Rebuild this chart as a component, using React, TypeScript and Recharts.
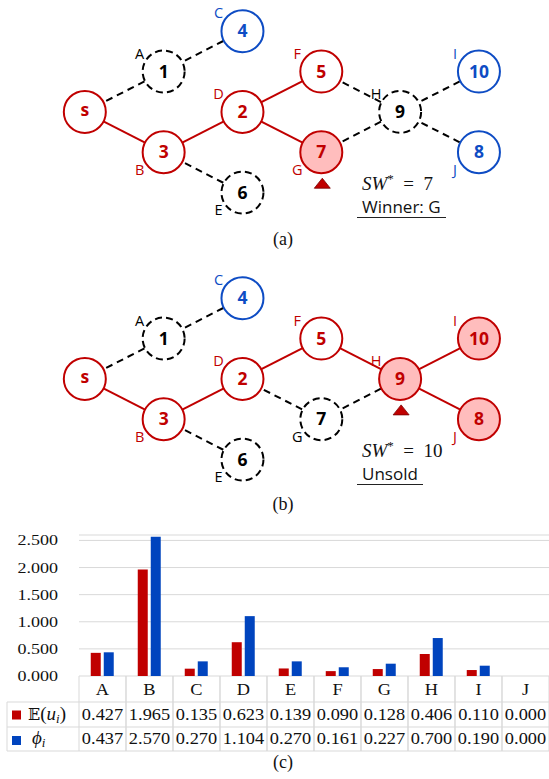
import React from 'react';
import { ScatterChart, Scatter, XAxis, YAxis, BarChart, Bar, CartesianGrid } from 'recharts';

// ---------------- network data ----------------
const nodeIds = ['s', '1', '2', '3', '4', '5', '6', '7', '8', '9', '10'];
const nodeCols = [0, 1, 2, 1, 2, 3, 2, 3, 5, 4, 5];
const nodeRows = [0, -1, 0, 1, -2, -1, 2, 1, 1, 0, -1];
const nodeLetters = ['', 'A', 'D', 'B', 'C', 'F', 'E', 'G', 'J', 'H', 'I'];
const letterSides = ['', 'top', 'top', 'bottom', 'top', 'top', 'bottom', 'bottom', 'bottom', 'top', 'top'];

const edgeFrom = ['s', '1', 's', '3', '3', '2', '2', '5', '7', '9', '9'];
const edgeTo = ['1', '4', '3', '2', '6', '5', '7', '9', '9', '10', '8'];

const edgeStatesA = ['idle', 'idle', 'path', 'path', 'idle', 'path', 'path', 'idle', 'idle', 'idle', 'idle'];
const edgeStatesB = ['idle', 'idle', 'path', 'path', 'idle', 'path', 'idle', 'path', 'idle', 'path', 'path'];

const nodeStatesA = ['path', 'idle', 'path', 'path', 'leaf', 'path', 'idle', 'win', 'leaf', 'idle', 'leaf'];
const nodeStatesB = ['path', 'idle', 'path', 'path', 'leaf', 'path', 'idle', 'idle', 'win', 'win', 'win'];

const markerA = '7';
const markerB = '9';
const swA = 7;
const swB = 10;
const outcomeA = 'Winner: G';
const outcomeB = 'Unsold';

// ---------------- bar / table data ----------------
const categories = ['A', 'B', 'C', 'D', 'E', 'F', 'G', 'H', 'I', 'J'];
const euValues = [0.427, 1.965, 0.135, 0.623, 0.139, 0.09, 0.128, 0.406, 0.11, 0.0];
const phiValues = [0.437, 2.57, 0.27, 1.104, 0.27, 0.161, 0.227, 0.7, 0.19, 0.0];
const yTicks = [0, 0.5, 1, 1.5, 2, 2.5];

// ---------------- styles ----------------
const RED = '#C00000';
const BLUE = '#0E4CC4';
const BAR_BLUE = '#0044BE';
const PINK = '#FFBDBD';
const GRID = '#D9D9D9';
const SANS = "'Open Sans', 'Noto Sans', sans-serif";
const SERIF = "'Liberation Serif', 'Times New Roman', serif";
const W = 549;
const Y_AXIS_W = 79;
const COL_W = (W - Y_AXIS_W) / categories.length;

const NoShape = () => <g />;

function makeNodeShape(markerId: string) {
  return (props: any) => {
    const { cx, cy, payload } = props;
    const st = payload.state;
    const stroke = st === 'leaf' ? BLUE : st === 'idle' ? '#000' : RED;
    const fill = st === 'win' ? PINK : '#fff';
    const dash = st === 'idle' ? '7 4.2' : undefined;
    const lower = /[a-z]/.test(payload.id);
    return (
      <g>
        <circle cx={cx} cy={cy} r={21} fill={fill} stroke={stroke} strokeWidth={2} strokeDasharray={dash} />
        <text
          x={cx}
          y={cy + (lower ? 4.5 : 6)}
          textAnchor="middle"
          fontFamily={SANS}
          fontWeight={700}
          fontSize={17.5}
          fill={stroke}
        >
          {payload.id}
        </text>
        {payload.letter ? (
          <text
            x={cx - 24}
            y={payload.side === 'top' ? cy - 13 : cy + 22.5}
            textAnchor="middle"
            fontFamily={SANS}
            fontSize={14.5}
            fill={stroke}
          >
            {payload.letter}
          </text>
        ) : null}
        {payload.id === markerId ? (
          <polygon
            points={`${cx + 1},${cy + 26} ${cx + 9},${cy + 36} ${cx - 7},${cy + 36}`}
            fill={RED}
            stroke="#7a0000"
            strokeWidth={0.8}
          />
        ) : null}
      </g>
    );
  };
}

function Network({ nodeStates, edgeStates, marker }: { nodeStates: string[]; edgeStates: string[]; marker: string }) {
  const nodes = nodeIds.map((id, i) => ({
    id,
    col: nodeCols[i],
    row: nodeRows[i],
    letter: nodeLetters[i],
    side: letterSides[i],
    state: nodeStates[i],
  }));
  const byId: Record<string, any> = {};
  nodes.forEach((n) => (byId[n.id] = n));
  return (
    <ScatterChart width={W} height={250} margin={{ top: 11, right: 7, bottom: 9, left: 6 }}>
      <XAxis type="number" dataKey="col" domain={[-1, 5.8]} hide />
      <YAxis type="number" dataKey="row" domain={[-2.5, 3.2]} reversed hide />
      {edgeFrom.map((f, i) => {
        const st = edgeStates[i];
        return (
          <Scatter
            key={'e' + i}
            data={[byId[f], byId[edgeTo[i]]]}
            shape={NoShape}
            line={{
              stroke: st === 'path' ? RED : '#000',
              strokeWidth: 2,
              strokeDasharray: st === 'path' ? undefined : '7 5',
            }}
            isAnimationActive={false}
          />
        );
      })}
      <Scatter data={nodes} shape={makeNodeShape(marker)} isAnimationActive={false} />
    </ScatterChart>
  );
}

function YTick(props: any) {
  const { x, y, payload } = props;
  return (
    <g transform={`translate(${x - 21},${y + 5})`}>
      <text transform="scale(1.2,1)" textAnchor="end" fontFamily={SERIF} fontSize={15} fill="#111">
        {Number(payload.value).toFixed(3)}
      </text>
    </g>
  );
}

function Val({ x, y, children }: { x: number; y: number; children: any }) {
  return (
    <g transform={`translate(${x},${y})`}>
      <text transform="scale(1.08,1)" textAnchor="middle" fontFamily={SERIF} fontSize={17} fill="#111">
        {children}
      </text>
    </g>
  );
}

function TableTick(props: any) {
  const { x, y, payload } = props;
  const i = categories.indexOf(payload.value);
  const left = x - COL_W / 2;
  const right = x + COL_W / 2;
  const r1 = y + 26;
  const r2 = y + 51;
  const r3 = y + 75;
  const labelLeft = 7;
  return (
    <g>
      <line x1={left} y1={y} x2={left} y2={r3} stroke={GRID} />
      <line x1={right} y1={y} x2={right} y2={r3} stroke={GRID} />
      <line x1={left} y1={r1} x2={right} y2={r1} stroke={GRID} />
      <line x1={left} y1={r2} x2={right} y2={r2} stroke={GRID} />
      <line x1={left} y1={r3} x2={right} y2={r3} stroke={GRID} />
      <Val x={x} y={y + 19}>{payload.value}</Val>
      <Val x={x} y={y + 44}>{euValues[i].toFixed(3)}</Val>
      <Val x={x} y={y + 68}>{phiValues[i].toFixed(3)}</Val>
      {i === 0 ? (
        <g>
          <line x1={labelLeft} y1={r1} x2={left} y2={r1} stroke={GRID} />
          <line x1={labelLeft} y1={r2} x2={left} y2={r2} stroke={GRID} />
          <line x1={labelLeft} y1={r3} x2={left} y2={r3} stroke={GRID} />
          <line x1={labelLeft} y1={r1} x2={labelLeft} y2={r3} stroke={GRID} />
          <rect x={12} y={y + 34.5} width={9} height={9} fill={RED} />
          <rect x={12} y={y + 60} width={9} height={9} fill={BAR_BLUE} />
          <text x={28} y={y + 44} fontFamily={SERIF} fontSize={19} fill="#111">
            <tspan fontFamily="'DejaVu Serif', 'DejaVu Sans', serif" fontSize={16}>{'\u{1D53C}'}</tspan>
            <tspan>(</tspan>
            <tspan fontStyle="italic">u</tspan>
            <tspan fontStyle="italic" fontSize={13} dy={3}>i</tspan>
            <tspan dy={-3}>)</tspan>
          </text>
          <text x={32} y={y + 68} fontFamily={SERIF} fontSize={19} fill="#111">
            <tspan fontStyle="italic">{'\u03D5'}</tspan>
            <tspan fontStyle="italic" fontSize={13} dy={3}>i</tspan>
          </text>
        </g>
      ) : null}
    </g>
  );
}

function Outcome({ top, text }: { top: number; text: string }) {
  return (
    <div
      style={{
        position: 'absolute',
        left: 357,
        top,
        fontFamily: SANS,
        fontSize: 17,
        lineHeight: '17px',
        color: '#111',
        padding: '0 5px 2.6px 5px',
        borderBottom: '1.3px solid #222',
        whiteSpace: 'nowrap',
      }}
    >
      {text}
    </div>
  );
}

function SW({ y, value }: { y: number; value: number }) {
  return (
    <text x={362} y={y} fontFamily={SERIF} fontSize={19} fill="#111">
      <tspan fontStyle="italic">SW</tspan>
      <tspan fontSize={13} dy={-7}>*</tspan>
      <tspan dy={7}>{'\u2002=\u2002' + value}</tspan>
    </text>
  );
}

export default function App() {
  const barData = categories.map((c, i) => ({ cat: c, eu: euValues[i], phi: phiValues[i] }));
  return (
    <div style={{ position: 'absolute', left: 0, top: 0, width: W, height: 779, background: '#fff', overflow: 'hidden' }}>
      <div style={{ position: 'absolute', left: 0, top: 0 }}>
        <Network nodeStates={nodeStatesA} edgeStates={edgeStatesA} marker={markerA} />
      </div>
      <div style={{ position: 'absolute', left: 0, top: 267 }}>
        <Network nodeStates={nodeStatesB} edgeStates={edgeStatesB} marker={markerB} />
      </div>
      <div style={{ position: 'absolute', left: 0, top: 520 }}>
        <BarChart
          width={W}
          height={259}
          data={barData}
          margin={{ top: 15, right: 0, left: 0, bottom: 23 }}
          barCategoryGap="25%"
          barGap={3}
        >
          <CartesianGrid vertical={false} stroke={GRID} />
          <XAxis
            dataKey="cat"
            height={80}
            tickLine={false}
            axisLine={false}
            tickSize={0}
            tickMargin={0}
            interval={0}
            tick={(p: any) => <TableTick {...p} />}
          />
          <YAxis
            width={Y_AXIS_W}
            domain={[0, 2.6]}
            ticks={yTicks}
            tickLine={false}
            axisLine={false}
            tickSize={0}
            tickMargin={0}
            tick={(p: any) => <YTick {...p} />}
          />
          <Bar dataKey="eu" fill={RED} isAnimationActive={false} />
          <Bar dataKey="phi" fill={BAR_BLUE} isAnimationActive={false} />
        </BarChart>
      </div>
      <svg width={W} height={779} style={{ position: 'absolute', left: 0, top: 0, pointerEvents: 'none' }}>
        <SW y={190} value={swA} />
        <SW y={457} value={swB} />
        <text x={283} y={245} textAnchor="middle" fontFamily={SERIF} fontSize={18} fill="#111">(a)</text>
        <text x={283} y={510} textAnchor="middle" fontFamily={SERIF} fontSize={18} fill="#111">(b)</text>
        <text x={283} y={768} textAnchor="middle" fontFamily={SERIF} fontSize={18} fill="#111">(c)</text>
      </svg>
      <Outcome top={197.9} text={outcomeA} />
      <Outcome top={464.9} text={outcomeB} />
    </div>
  );
}
